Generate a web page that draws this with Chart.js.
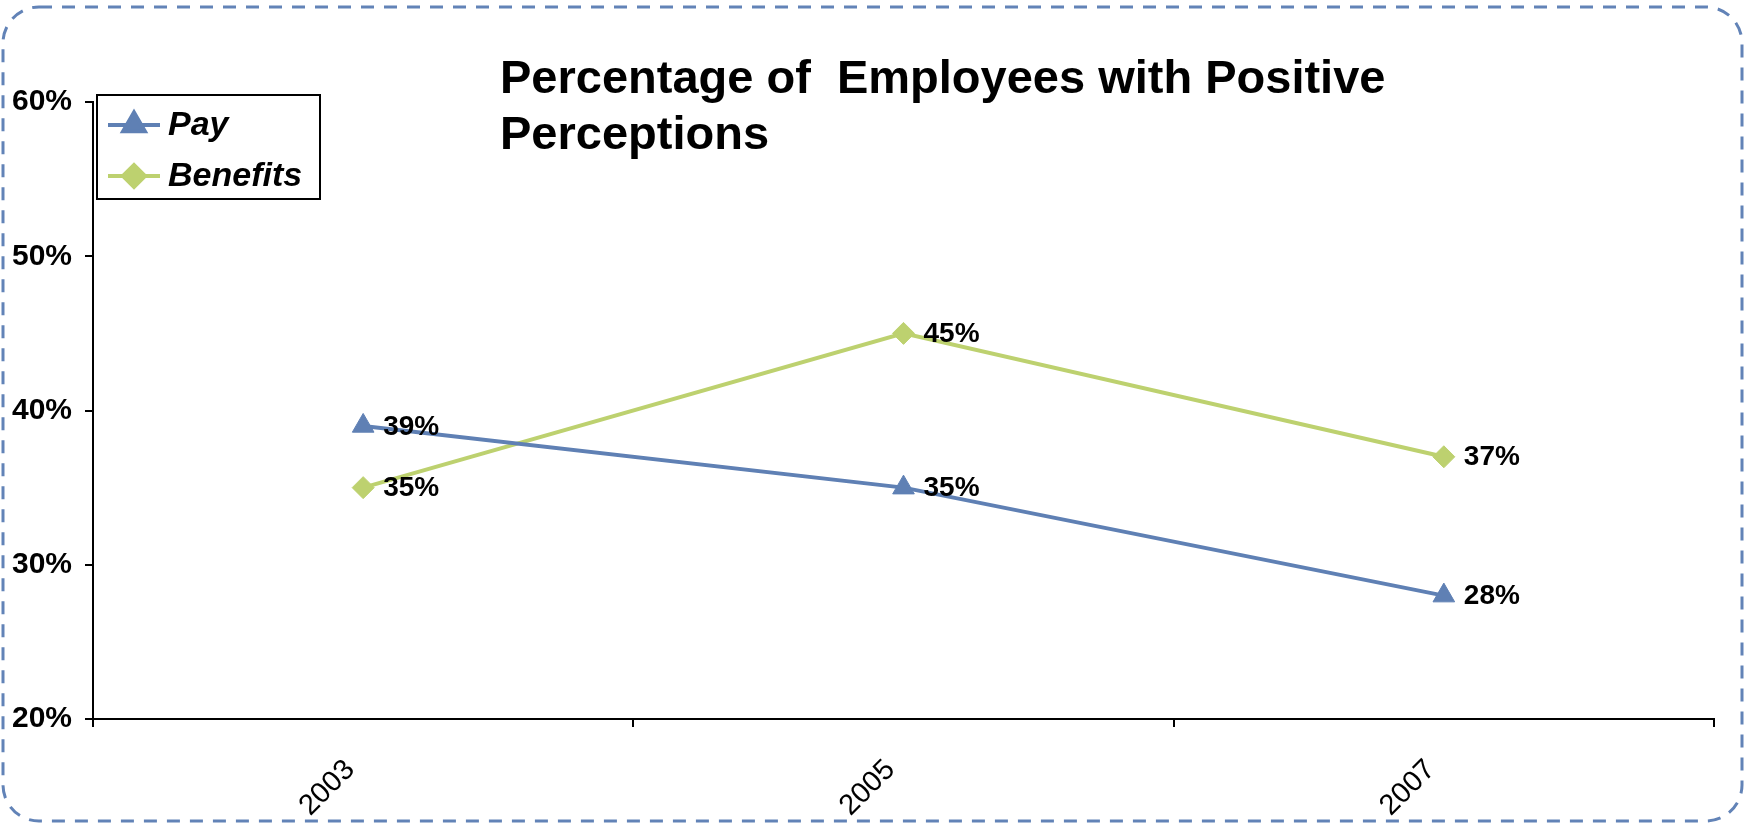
<!DOCTYPE html>
<html lang="en">
<head>
    <meta charset="UTF-8">
    <title>Percentage of Employees with Positive Perceptions</title>
    <script src="https://cdn.jsdelivr.net/npm/chart.js"></script>
    <style>
        body {
            margin: 0;
            background: #fff;
            font-family: 'Liberation Sans', Arial, sans-serif;
        }
        .wrap {
            position: relative;
            width: 1744px;
            height: 826px;
        }
        canvas {
            position: absolute;
            left: 0;
            top: 0;
        }
        .chart-title {
            position: absolute;
            left: 500px;
            top: 49px;
            font: bold 47px/56px 'Liberation Sans', Arial, sans-serif;
            white-space: pre;
            color: #000;
        }
    </style>
</head>
<body>
    <div class="wrap">
        <canvas id="perceptionChart" width="1744" height="826"></canvas>
        <div class="chart-title">Percentage of  Employees with Positive
Perceptions</div>
    </div>

    <script>
        const years = ['2003', '2005', '2007'];
        const payValues = [39, 35, 28];
        const benefitValues = [35, 45, 37];
        const yMin = 20;
        const yMax = 60;
        const yStep = 10;

        const blue = '#5f80b4';
        const green = '#bdd16f';

        // dashed rounded frame around the whole chart
        const framePlugin = {
            id: 'frame',
            beforeDraw(chart) {
                const ctx = chart.ctx;
                ctx.save();
                ctx.strokeStyle = '#6283b7';
                ctx.lineWidth = 3;
                ctx.setLineDash([13, 10]);
                ctx.beginPath();
                ctx.roundRect(3, 7, 1739, 814, 36);
                ctx.stroke();
                ctx.restore();
            }
        };

        // value labels to the right of each point
        const valueLabels = {
            id: 'valueLabels',
            afterDatasetsDraw(chart) {
                const ctx = chart.ctx;
                ctx.save();
                ctx.font = 'bold 28px "Liberation Sans", Arial, sans-serif';
                ctx.fillStyle = '#000';
                ctx.textAlign = 'left';
                ctx.textBaseline = 'middle';
                chart.data.datasets.forEach((ds, i) => {
                    chart.getDatasetMeta(i).data.forEach((pt, j) => {
                        ctx.fillText(ds.data[j] + '%', pt.x + 20, pt.y + 1);
                    });
                });
                ctx.restore();
            }
        };

        // boxed legend sitting inside the plot, top-left
        const boxLegend = {
            id: 'boxLegend',
            afterDraw(chart) {
                const ctx = chart.ctx;
                const box = { x: 97, y: 95, w: 223, h: 104 };
                ctx.save();
                ctx.strokeStyle = '#000';
                ctx.lineWidth = 2;
                ctx.strokeRect(box.x, box.y, box.w, box.h);
                ctx.font = 'italic bold 34px "Liberation Sans", Arial, sans-serif';
                ctx.textBaseline = 'middle';
                chart.data.datasets.forEach((ds, i) => {
                    const y = box.y + 30 + i * 51;
                    ctx.strokeStyle = ds.borderColor;
                    ctx.lineWidth = 4;
                    ctx.beginPath();
                    ctx.moveTo(box.x + 11, y);
                    ctx.lineTo(box.x + 63, y);
                    ctx.stroke();
                    ctx.fillStyle = ds.pointBackgroundColor;
                    ctx.strokeStyle = ds.pointBorderColor;
                    Chart.helpers.drawPoint(ctx, {
                        pointStyle: ds.pointStyle,
                        radius: ds.pointRadius,
                        rotation: 0,
                        borderWidth: 1
                    }, box.x + 37, y);
                    ctx.fillStyle = '#000';
                    ctx.fillText(ds.label, box.x + 71, y + 1);
                });
                ctx.restore();
            }
        };

        const ctx = document.getElementById('perceptionChart').getContext('2d');

        new Chart(ctx, {
            type: 'line',
            data: {
                labels: years,
                datasets: [{
                    label: 'Pay',
                    data: payValues,
                    borderColor: blue,
                    borderWidth: 4,
                    pointStyle: 'triangle',
                    pointRadius: 12.5,
                    pointBackgroundColor: blue,
                    pointBorderColor: blue,
                    pointBorderWidth: 1,
                    tension: 0
                }, {
                    label: 'Benefits',
                    data: benefitValues,
                    borderColor: green,
                    borderWidth: 4,
                    pointStyle: 'rectRot',
                    pointRadius: 11,
                    pointBackgroundColor: green,
                    pointBorderColor: green,
                    pointBorderWidth: 1,
                    tension: 0
                }]
            },
            options: {
                responsive: false,
                animation: false,
                layout: {
                    padding: { left: 0, right: 30, top: 102, bottom: 0 }
                },
                plugins: {
                    legend: { display: false },
                    title: { display: false },
                    tooltip: { enabled: false }
                },
                scales: {
                    x: {
                        offset: true,
                        grid: {
                            offset: true,
                            drawOnChartArea: false,
                            tickLength: 8,
                            color: '#000',
                            lineWidth: 2
                        },
                        border: { color: '#000', width: 2 },
                        ticks: {
                            minRotation: 45,
                            maxRotation: 45,
                            padding: 26,
                            labelOffset: -13,
                            color: '#000',
                            font: { family: '"Liberation Sans", Arial, sans-serif', size: 29 }
                        },
                        afterFit(scale) { scale.height = 107; }
                    },
                    y: {
                        min: yMin,
                        max: yMax,
                        grid: {
                            drawOnChartArea: false,
                            tickLength: 8,
                            color: '#000',
                            lineWidth: 2
                        },
                        border: { color: '#000', width: 2 },
                        ticks: {
                            stepSize: yStep,
                            padding: 13,
                            color: '#000',
                            font: { family: '"Liberation Sans", Arial, sans-serif', size: 30, weight: 'bold' },
                            callback: v => v + '%'
                        },
                        afterFit(scale) { scale.width = 93; }
                    }
                }
            },
            plugins: [framePlugin, valueLabels, boxLegend]
        });
    </script>
</body>
</html>
